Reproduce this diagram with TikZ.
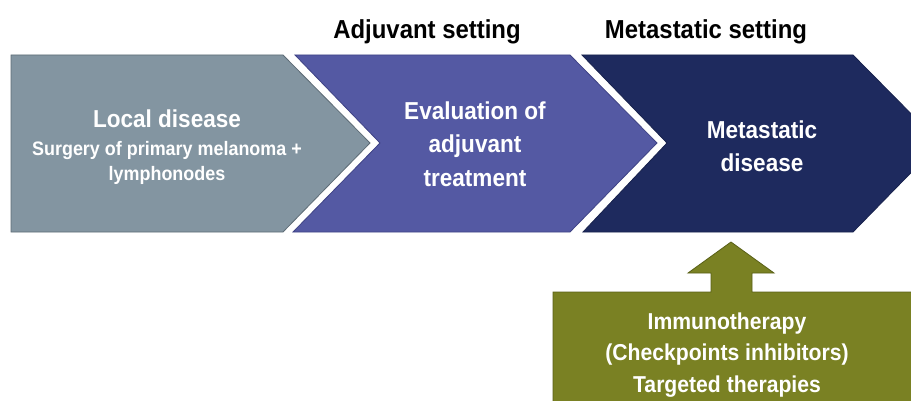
\documentclass[tikz,border=0pt]{standalone}
\usepackage{fontspec}
\setmainfont{Liberation Sans}[FakeStretch=0.92]
\usetikzlibrary{positioning}

\definecolor{localgray}{HTML}{8395A1}
\definecolor{localedge}{HTML}{5E6C76}
\definecolor{adjblue}{HTML}{5459A3}
\definecolor{adjedge}{HTML}{3F4385}
\definecolor{metanavy}{HTML}{1E2A5E}
\definecolor{metaedge}{HTML}{18224D}
\definecolor{therapygreen}{HTML}{7A8123}
\definecolor{therapyedge}{HTML}{596017}

\begin{document}
\begin{tikzpicture}[
  x=1pt,
  y=-1pt,
  font=\bfseries,
  chev/.style={
    line width=0.8pt,
    line join=miter
  },
  title/.style={
    text=white,
    align=center,
    inner sep=0pt,
    font=\bfseries\fontsize{24.5}{33.5}\selectfont
  },
  sub/.style={
    text=white,
    align=center,
    inner sep=0pt,
    font=\bfseries\fontsize{19.5}{25.5}\selectfont
  },
  head/.style={
    text=black,
    anchor=base,
    inner sep=0pt,
    font=\bfseries\fontsize{26}{30}\selectfont
  },
  treat/.style={
    text=white,
    align=center,
    inner sep=0pt,
    font=\bfseries\fontsize{23}{31.5}\selectfont
  }
]

\clip (0,0) rectangle (911,401);
\fill[white] (0,0) rectangle (911,401);

% =========================================================
% ETAPAS
% =========================================================

\filldraw[chev, fill=localgray, draw=localedge]
  (11,55) -- (283,55) -- (370,143) -- (283,232) -- (11,232) -- cycle;

\filldraw[chev, fill=adjblue, draw=adjedge]
  (295,55) -- (570,55) -- (657,143) -- (570,232) -- (293,232)
  -- (380,143) -- cycle;

\filldraw[chev, fill=metanavy, draw=metaedge]
  (582,55) -- (853,55) -- (940,143) -- (853,232) -- (583,232)
  -- (667,143) -- cycle;

\node[title, anchor=base] (local) at (167,128) {Local disease};

\node[sub] (localsub) at (167,163)
  {Surgery of primary melanoma +\\
   lymphonodes};

\node[title] (adjuv) at (475,144)
  {Evaluation of\\
   adjuvant\\
   treatment};

\node[title] (meta) at (762,146)
  {Metastatic\\
   disease};

% --- Fases ---

\node[head] (adjlbl) at (427,39) {Adjuvant setting};

\node[head] (metalbl) at (706,39) {Metastatic setting};


% =========================================================
% TRATAMIENTOS
% =========================================================

\filldraw[chev, fill=therapygreen, draw=therapyedge]
  (553,292) -- (711,292) -- (711,273) -- (688,273) -- (731,242)
  -- (774,273) -- (752,273) -- (752,292) -- (925,292)
  -- (925,415) -- (553,415) -- cycle;

\node[treat] (therapy) at (727,355)
  {Immunotherapy\\
   (Checkpoints inhibitors)\\
   Targeted therapies};

\end{tikzpicture}
\end{document}
